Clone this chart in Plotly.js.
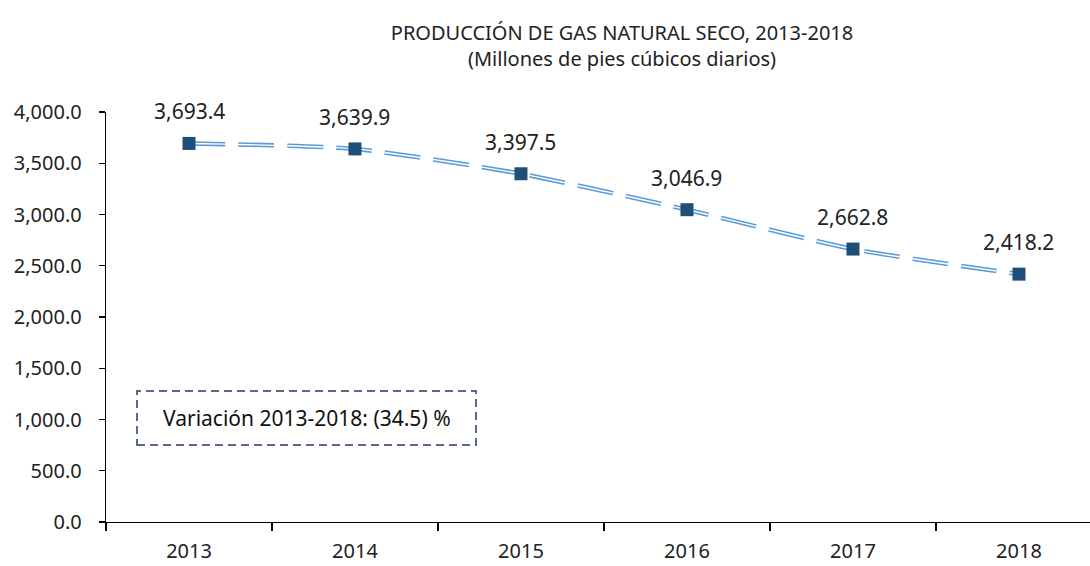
<!DOCTYPE html>
<html><head><meta charset="utf-8">
<script src="https://cdn.plot.ly/plotly-3.0.1.min.js"></script>
<style>html,body{margin:0;padding:0;background:#fff}</style>
</head><body>
<div id="chart" style="width:1090px;height:566px"></div>
<script>
const years = ["2013","2014","2015","2016","2017","2018"];
const production = [3693.4, 3639.9, 3397.5, 3046.9, 2662.8, 2418.2];
const valueLabels = ["3,693.4","3,639.9","3,397.5","3,046.9","2,662.8","2,418.2"];
const yTicks = [0,500,1000,1500,2000,2500,3000,3500,4000];
const noteText = "Variación 2013-2018: (34.5) %";

const font = "Noto Sans, Open Sans, sans-serif";
const dash = "36px,13px";
const traces = [
  {x: years, y: production, type: "scatter", mode: "lines",
   line: {color: "#5B9BD5", width: 4.5, dash: dash, shape: "spline", smoothing: 0.6},
   hoverinfo: "skip", showlegend: false},
  {x: years, y: production, type: "scatter", mode: "lines",
   line: {color: "#ffffff", width: 1.4, dash: dash, shape: "spline", smoothing: 0.6},
   hoverinfo: "skip", showlegend: false},
  {x: years, y: production, type: "scatter", mode: "markers",
   marker: {symbol: "square", size: 13, color: "#1F4E79"},
   showlegend: false}
];
const L = 106, R = 0, T = 112, B = 44, W = 1090, H = 566;
const pw = W - L - R, ph = H - T - B;
const px = x => (x - L) / pw, py = y => (H - B - y) / ph;

const annotations = years.map((yr, i) => ({
  x: i, y: production[i], xref: "x", yref: "y", text: valueLabels[i],
  showarrow: false, yshift: 32, xanchor: "center", yanchor: "middle",
  font: {family: font, size: 21, color: "#222"}
}));
annotations.push({
  x: px(307), y: py(418), xref: "paper", yref: "paper", text: noteText, showarrow: false,
  xanchor: "center", yanchor: "middle",
  font: {family: font, size: 21, color: "#111"}
});

const layout = {
  width: W, height: H,
  margin: {l: L, r: R, t: T, b: B, pad: 0},
  paper_bgcolor: "#fff", plot_bgcolor: "#fff",
  title: {text: "PRODUCCIÓN DE GAS NATURAL SECO, 2013-2018<br>(Millones de pies cúbicos diarios)",
          x: 622/W, xanchor: "center", y: 1 - 40/H, yanchor: "top",
          font: {family: font, size: 20, color: "#222"}},
  xaxis: {type: "category", range: [-0.5, 5.428], tickson: "boundaries",
          showline: true, linecolor: "#000", linewidth: 1.3,
          ticks: "outside", ticklen: 8, tickcolor: "#000", tickwidth: 1.3,
          ticklabelstandoff: 11,
          showgrid: false, zeroline: false, fixedrange: true,
          tickfont: {family: font, size: 20, color: "#222"}},
  yaxis: {range: [0, 4000], tickvals: yTicks, tickformat: ",.1f",
          showline: true, linecolor: "#000", linewidth: 1.3,
          ticks: "outside", ticklen: 6, tickcolor: "#000", tickwidth: 1.3,
          ticklabelstandoff: 13,
          showgrid: false, zeroline: false, fixedrange: true,
          tickfont: {family: font, size: 20, color: "#222"}},
  shapes: [{type: "rect", xref: "paper", yref: "paper",
            x0: px(137), x1: px(476), y0: py(445), y1: py(391),
            line: {color: "#1F3864", width: 1.5, dash: "8px,5px"}}],
  annotations: annotations,
  showlegend: false
};
Plotly.newPlot("chart", traces, layout, {displayModeBar: false, staticPlot: true});
</script>
</body></html>
